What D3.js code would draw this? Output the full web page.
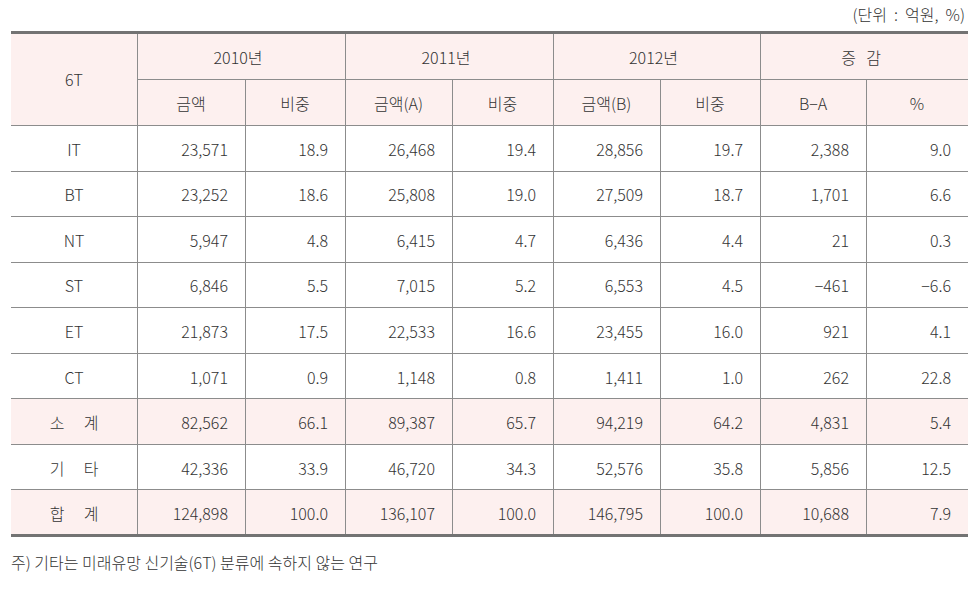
<!DOCTYPE html>
<html><head><meta charset="utf-8">
<script src="https://cdn.jsdelivr.net/npm/d3@7"></script>
<style>body{margin:0;background:#fff;}svg{display:block;font-family:"Noto Sans CJK KR","Noto Sans",sans-serif;}</style>
</head><body><svg id="c" width="975" height="594"></svg>
<script>
const categories = ["IT","BT","NT","ST","ET","CT","소 계","기 타","합 계"];
const amount2010 = ["23,571","23,252","5,947","6,846","21,873","1,071","82,562","42,336","124,898"];
const share2010  = ["18.9","18.6","4.8","5.5","17.5","0.9","66.1","33.9","100.0"];
const amount2011 = ["26,468","25,808","6,415","7,015","22,533","1,148","89,387","46,720","136,107"];
const share2011  = ["19.4","19.0","4.7","5.2","16.6","0.8","65.7","34.3","100.0"];
const amount2012 = ["28,856","27,509","6,436","6,553","23,455","1,411","94,219","52,576","146,795"];
const share2012  = ["19.7","18.7","4.4","4.5","16.0","1.0","64.2","35.8","100.0"];
const diffBA     = ["2,388","1,701","21","\u2212461","921","262","4,831","5,856","10,688"];
const diffPct    = ["9.0","6.6","0.3","\u22126.6","4.1","22.8","5.4","12.5","7.9"];
const groupHeaders = ["2010년","2011년","2012년","증 감"];
const subHeaders = ["금액","비중","금액(A)","비중","금액(B)","비중","B\u2212A","%"];
const highlighted = ["소 계","합 계"];
const unitLabel = "(단위 : 억원, %)";
const footnote = "주) 기타는 미래유망 신기술(6T) 분류에 속하지 않는 연구";

const svg = d3.select("#c");
const colEdges = [11,137,245,345,452,553,660,760,866,968];
const colX = i => colEdges[i];
const tTop = 33, hdr1 = 79, hdr2 = 125, tBottom = 535;
const y = d3.scaleBand().domain(categories).range([hdr2,tBottom]);
const pink = "#fdf0ef", lineC = "#8c8c8c", textC = "#333", thick = "#737373";
const fs = 16;

svg.append("rect").attr("x",colX(0)).attr("y",tTop).attr("width",colX(9)-colX(0)).attr("height",hdr2-tTop).attr("fill",pink);
svg.selectAll("rect.hl").data(highlighted).join("rect").attr("class","hl")
  .attr("x",colX(0)).attr("y",d=>y(d)).attr("width",colX(9)-colX(0)).attr("height",y.bandwidth()).attr("fill",pink);

const hLines = [hdr2, ...categories.slice(1).map(c=>Math.round(y(c)))];
svg.selectAll("line.h").data(hLines).join("line").attr("class","h")
  .attr("x1",colX(0)).attr("x2",colX(9)).attr("y1",d=>d+0.5).attr("y2",d=>d+0.5).attr("stroke",lineC);
svg.append("line").attr("x1",colX(1)).attr("x2",colX(9)).attr("y1",hdr1+0.5).attr("y2",hdr1+0.5).attr("stroke",lineC);
svg.selectAll("line.vf").data([1,3,5,7]).join("line").attr("class","vf")
  .attr("x1",d=>colX(d)+0.5).attr("x2",d=>colX(d)+0.5).attr("y1",tTop).attr("y2",tBottom).attr("stroke",lineC);
svg.selectAll("line.vp").data([2,4,6,8]).join("line").attr("class","vp")
  .attr("x1",d=>colX(d)+0.5).attr("x2",d=>colX(d)+0.5).attr("y1",hdr1).attr("y2",tBottom).attr("stroke",lineC);
svg.append("rect").attr("x",colX(0)).attr("y",tTop-2).attr("width",colX(9)-colX(0)).attr("height",3).attr("fill",thick);
svg.append("rect").attr("x",colX(0)).attr("y",tBottom-1).attr("width",colX(9)-colX(0)).attr("height",3).attr("fill",thick);

function txt(t,xx,yy,anchor){
  return svg.append("text").attr("x",xx).attr("y",yy).attr("text-anchor",anchor||"middle")
    .attr("dominant-baseline","central").attr("font-size",fs).attr("fill",textC).attr("font-weight",300)
    .style("white-space","pre").text(t);
}
// spaced two-syllable labels: place each syllable separately around the center
function spaced(t,cx,cy,half){
  const parts = t.split(" ");
  if (parts.length === 2) { txt(parts[0],cx-half,cy); txt(parts[1],cx+half,cy); }
  else txt(t,cx,cy);
}
txt("6T",(colX(0)+colX(1))/2,(tTop+hdr2)/2);
groupHeaders.forEach((g,i)=>spaced(g,(colX(1+2*i)+colX(3+2*i))/2-3,(tTop+hdr1)/2+1,12.5));
subHeaders.forEach((s,i)=>txt(s,(colX(1+i)+colX(2+i))/2,(hdr1+hdr2)/2+1));

const cols = [amount2010,share2010,amount2011,share2011,amount2012,share2012,diffBA,diffPct];
categories.forEach((c,r)=>{
  const cy = y(c)+y.bandwidth()/2+1;
  spaced(c,(colX(0)+colX(1))/2,cy,17);
  cols.forEach((arr,i)=>txt(arr[r],colX(i+2)-17,cy,"end"));
});

txt("(단위  :  억원,  %)",965,14,"end");
txt(footnote,11,562,"start");
</script></body></html>
